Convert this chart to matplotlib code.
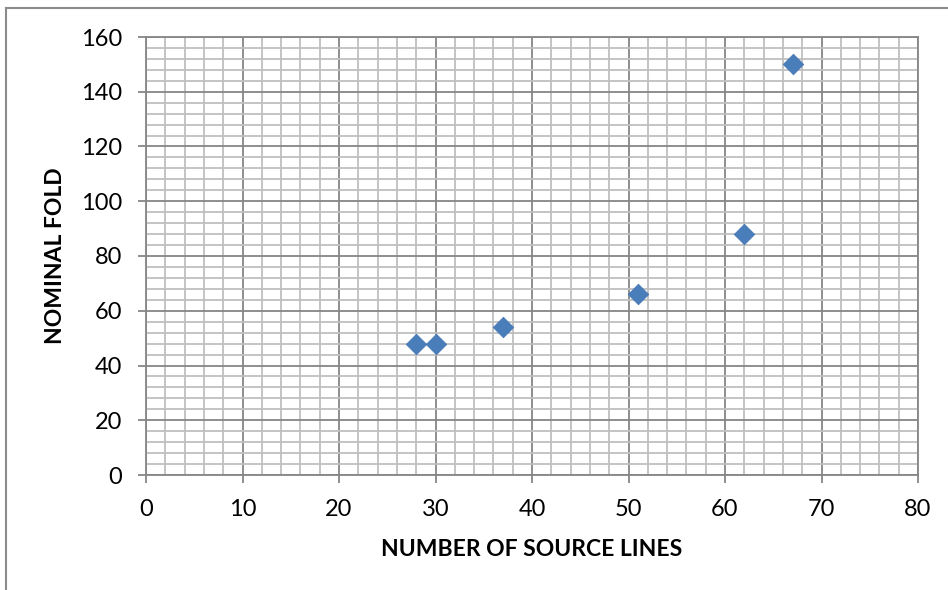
import matplotlib.pyplot as plt
from matplotlib.lines import Line2D
from matplotlib.ticker import MultipleLocator

# source lines vs nominal fold
source_lines = [28, 30, 37, 51, 62, 67]
nominal_fold = [48, 48, 54, 66, 88, 150]

MAJOR = "#868686"
MINOR = "#BFBFBF"

plt.rcParams["font.family"] = ["Lato", "DejaVu Sans"]

fig = plt.figure(figsize=(9.48, 5.90), dpi=100)
ax = fig.add_axes([146 / 948, 115 / 590, 772 / 948, 438 / 590])

ax.scatter(source_lines, nominal_fold, marker="D", s=110, color="#4A7EBB",
           edgecolor="#4577B5", linewidth=0.5, zorder=3)

ax.set_xlim(0, 80)
ax.set_ylim(0, 160)
ax.xaxis.set_major_locator(MultipleLocator(10))
ax.xaxis.set_minor_locator(MultipleLocator(2))
ax.yaxis.set_major_locator(MultipleLocator(20))
ax.yaxis.set_minor_locator(MultipleLocator(4))

ax.grid(which="minor", color=MINOR, lw=1.3, zorder=0)
ax.grid(which="major", color=MAJOR, lw=1.3, zorder=1)
ax.set_axisbelow(True)

for s in ax.spines.values():
    s.set_color(MAJOR)
    s.set_linewidth(1.3)

ax.tick_params(which="major", length=6, width=1.3, color=MAJOR,
               labelsize=17, pad=11)
ax.tick_params(which="minor", length=0)

ax.set_xlabel("NUMBER OF SOURCE LINES", fontsize=16.5, fontweight="bold", va="center")
ax.set_ylabel("NOMINAL FOLD", fontsize=16.5, fontweight="bold", va="center")
ax.xaxis.set_label_coords(0.5, (475 - 549) / 438)
ax.yaxis.set_label_coords((56 - 146) / 772, 0.5)

# chart frame (runs off the right and bottom edges)
fig.add_artist(Line2D([6 / 948, 6 / 948], [0, 582 / 590], color="#8C8C8C", lw=1.5))
fig.add_artist(Line2D([6 / 948, 1], [582 / 590, 582 / 590], color="#8C8C8C", lw=1.5))

fig.savefig("out.png", dpi=100, facecolor="white")
